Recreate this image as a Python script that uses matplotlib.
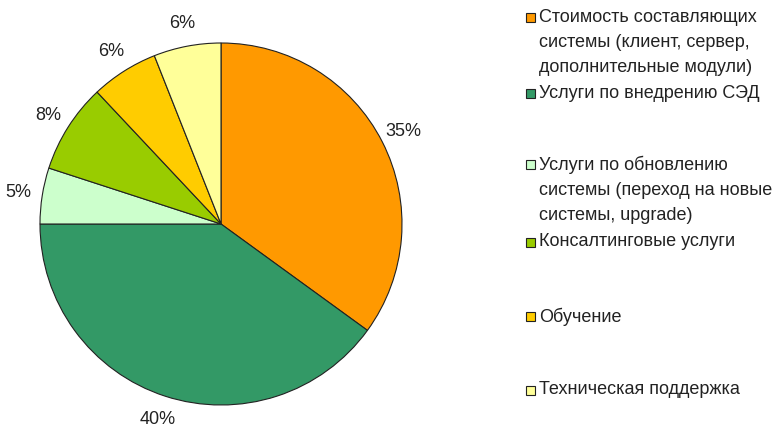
import numpy as np
import matplotlib
matplotlib.use("Agg")
import matplotlib.pyplot as plt
from matplotlib.patches import Rectangle

# ── Data ──────────────────────────────────────────────────────────────────────
categories = [
    "Стоимость составляющих\nсистемы (клиент, сервер,\nдополнительные модули)",
    "Услуги по внедрению СЭД",
    "Услуги по обновлению\nсистемы (переход на новые\nсистемы, upgrade)",
    "Консалтинговые услуги",
    "Обучение",
    "Техническая поддержка",
]
shares = [35, 40, 5, 8, 6, 6]
colors = ["#FF9900", "#339966", "#CCFFCC", "#99CC00", "#FFCC00", "#FFFF99"]

# ── Layout (pixel space) ──────────────────────────────────────────────────────
W, H = 776, 427
center = (221, H - 225)
radius = 181
label_r = 205
legend_x = 526
legend_y = [18, 94, 165, 243, 317, 391]   # first-line centre of each entry

plt.rcParams["font.family"] = ["Liberation Sans", "DejaVu Sans"]
FS = 13

fig = plt.figure(figsize=(W / 100, H / 100), dpi=100)
ax = fig.add_axes([0, 0, 1, 1])

wedges, _ = ax.pie(
    shares, colors=colors, startangle=90, counterclock=False,
    center=center, radius=radius, frame=True,
    wedgeprops=dict(edgecolor="#222222", linewidth=0.8),
)
ax.set_xlim(0, W)
ax.set_ylim(0, H)
ax.set_aspect("equal")
ax.axis("off")

# percentage labels outside each slice
for w, s in zip(wedges, shares):
    ang = np.deg2rad((w.theta1 + w.theta2) / 2)
    x = center[0] + label_r * np.cos(ang)
    y = center[1] + label_r * np.sin(ang)
    ax.text(x, y, f"{s}%", ha="center", va="center", fontsize=FS, color="#222222")

# legend
for label, c, yy in zip(categories, colors, legend_y):
    ax.add_patch(Rectangle((legend_x, H - yy - 4.5), 9, 9, facecolor=c,
                           edgecolor="#222222", linewidth=0.8))
    ax.text(legend_x + 13, H - yy + 9.5, label, ha="left", va="top",
            fontsize=FS, color="#222222", linespacing=1.62)

fig.savefig("out.png", dpi=100)
